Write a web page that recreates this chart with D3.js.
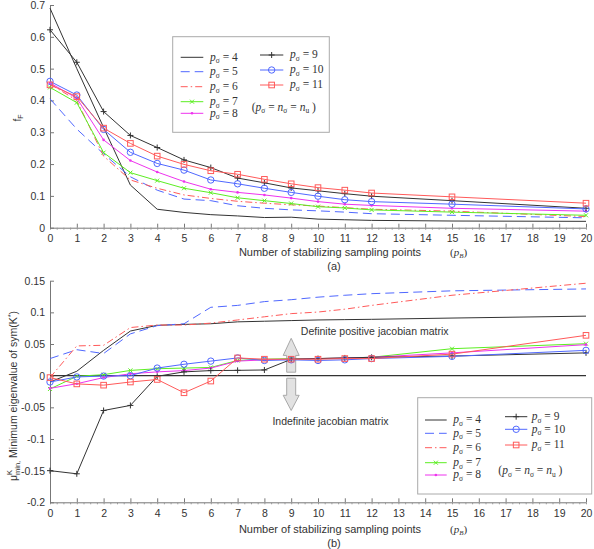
<!DOCTYPE html>
<html>
<head>
<meta charset="utf-8">
<script src="https://cdn.jsdelivr.net/npm/d3@7"></script>
<style>
body { margin: 0; background: #fff; }
svg { display: block; }
</style>
</head>
<body>
<div id="container"></div>
<script>
/* Abscisses communes aux deux graphes */
const xPoints = [0, 1, 2, 3, 4, 5, 6, 7, 8, 9, 10, 11, 12, 15, 20];
const pValues = [4, 5, 6, 7, 8, 9, 10, 11];
const xTicks = d3.range(0, 21);
const topYTicks = [0, 0.1, 0.2, 0.3, 0.4, 0.5, 0.6, 0.7];
const botYTicks = [-0.2, -0.15, -0.1, -0.05, 0, 0.05, 0.1, 0.15];

/* (a) f_F */
const topP4  = [0.69, 0.50, 0.315, 0.134, 0.058, 0.048, 0.041, 0.037, 0.032, 0.033, 0.027, 0.025, 0.023, 0.021, 0.020];
const topP5  = [0.405, 0.31, 0.232, 0.160, 0.118, 0.090, 0.085, 0.069, 0.061, 0.056, 0.053, 0.049, 0.044, 0.039, 0.031];
const topP6  = [0.452, 0.40, 0.225, 0.150, 0.124, 0.103, 0.092, 0.083, 0.077, 0.072, 0.068, 0.063, 0.058, 0.052, 0.035];
const topP7  = [0.441, 0.393, 0.236, 0.173, 0.148, 0.124, 0.110, 0.094, 0.085, 0.076, 0.066, 0.062, 0.056, 0.049, 0.039];
const topP8  = [0.455, 0.407, 0.276, 0.211, 0.175, 0.145, 0.121, 0.111, 0.103, 0.093, 0.082, 0.074, 0.070, 0.061, 0.052];
const topP9  = [0.622, 0.52, 0.365, 0.290, 0.252, 0.213, 0.189, 0.156, 0.141, 0.125, 0.116, 0.107, 0.099, 0.085, 0.061];
const topP10 = [0.460, 0.417, 0.309, 0.237, 0.202, 0.181, 0.150, 0.138, 0.124, 0.111, 0.099, 0.088, 0.082, 0.074, 0.059];
const topP11 = [0.449, 0.412, 0.313, 0.265, 0.225, 0.199, 0.179, 0.168, 0.152, 0.138, 0.126, 0.118, 0.109, 0.097, 0.077];

/* (b) valeur propre minimale */
const botP4  = [-0.010, 0.007, 0.040, 0.0705, 0.0795, 0.081, 0.082, 0.085, 0.086, 0.087, 0.088, 0.0885, 0.089, 0.091, 0.094];
const botP5  = [0.027, 0.041, 0.035, 0.066, 0.079, 0.082, 0.108, 0.111, 0.117, 0.120, 0.124, 0.127, 0.1295, 0.134, 0.137];
const botP6  = [-0.003, 0.047, 0.048, 0.076, 0.080, 0.080, 0.083, 0.088, 0.093, 0.098, 0.1005, 0.105, 0.111, 0.127, 0.146];
const botP7  = [-0.021, -0.001, 0.0016, 0.0083, 0.011, 0.012, 0.013, 0.024, 0.026, 0.027, 0.027, 0.028, 0.029, 0.0426, 0.0505];
const botP8  = [-0.020, -0.0127, -0.003, 0.003, 0.006, 0.008, 0.012, 0.023, 0.025, 0.026, 0.027, 0.028, 0.029, 0.036, 0.049];
const botP9  = [-0.150, -0.155, -0.055, -0.047, -0.001, 0.006, 0.008, 0.0084, 0.009, 0.0258, 0.027, 0.028, 0.029, 0.031, 0.036];
const botP10 = [-0.010, -0.002, -0.0006, 0.000, 0.012, 0.018, 0.023, 0.028, 0.024, 0.025, 0.024, 0.025, 0.027, 0.0305, 0.040];
const botP11 = [-0.003, -0.013, -0.015, -0.010, -0.006, -0.027, -0.0085, 0.028, 0.026, 0.026, 0.026, 0.027, 0.027, 0.034, 0.0637];

/* Flèche double et annotations (coordonnées des données) */
const arrowX = 9;
const arrowUp = [0.0055, 0.032, 0.059];
const arrowDown = [-0.004, -0.031, -0.055];

/* Styles des séries */
const seriesStyle = [
	{color: "#333333", dash: null, marker: null},
	{color: "#5068ff", dash: "9,5", marker: null},
	{color: "#ff5a5a", dash: "7,3,1.5,3", marker: null},
	{color: "#5cee22", dash: null, marker: "x"},
	{color: "#ee33ee", dash: null, marker: "dot"},
	{color: "#333333", dash: null, marker: "plus"},
	{color: "#5068ff", dash: null, marker: "circle"},
	{color: "#ff5a5a", dash: null, marker: "square"}
];

const topValues = [topP4, topP5, topP6, topP7, topP8, topP9, topP10, topP11];
const botValues = [botP4, botP5, botP6, botP7, botP8, botP9, botP10, botP11];

const fontSans = "Liberation Sans, Arial, sans-serif";
const fontSerif = "Liberation Serif, Times New Roman, serif";
const axisColor = "#777";
const textColor = "#333";

const svg = d3.select("#container").append("svg")
	.attr("width", 594)
	.attr("height", 549);

const x = d3.scaleLinear().domain([0, 20]).range([50, 586]);
const yTop = d3.scaleLinear().domain([0, 0.7]).range([227.7, 5]);
const yBot = d3.scaleLinear().domain([-0.2, 0.15]).range([502.3, 280.7]);

function fmt(d) {
	return String(+d.toFixed(2));
}

/**
 * Axes gauche et bas d'un graphe
**/
function drawAxes(y, yTicks) {
	const y0 = y.range()[0];
	const gx = svg.append("g").attr("transform", "translate(0," + y0 + ")");
	gx.call(d3.axisBottom(x).tickValues(xTicks).tickFormat(d3.format("d"))
		.tickSizeInner(-4).tickSizeOuter(0).tickPadding(7));
	/* graduations secondaires */
	const minor = svg.append("g").attr("transform", "translate(0," + y0 + ")");
	minor.call(d3.axisBottom(x).tickValues(d3.range(0, 20.01, 0.25)).tickFormat("")
		.tickSizeInner(2).tickSizeOuter(0));
	minor.select(".domain").remove();
	minor.selectAll("line").attr("stroke", "#999");

	const gy = svg.append("g").attr("transform", "translate(" + x(0) + ",0)");
	gy.call(d3.axisLeft(y).tickValues(yTicks).tickFormat(fmt)
		.tickSizeInner(-4).tickSizeOuter(0).tickPadding(5));

	[gx, gy].forEach(function(g) {
		g.select(".domain").attr("stroke", axisColor);
		g.selectAll(".tick line").attr("stroke", axisColor);
		g.selectAll(".tick text")
			.style("font-family", fontSans)
			.style("font-size", "10.5px")
			.attr("fill", textColor);
	});
}

function drawMarker(g, type, cx, cy, color) {
	if (type == "plus") {
		g.append("path").attr("d", "M" + (cx - 3) + "," + cy + "h6M" + cx + "," + (cy - 3) + "v6")
			.attr("stroke", color).attr("stroke-width", 1).attr("fill", "none");
	} else if (type == "x") {
		g.append("path").attr("d", "M" + (cx - 2) + "," + (cy - 2) + "l4,4M" + (cx - 2) + "," + (cy + 2) + "l4,-4")
			.attr("stroke", color).attr("stroke-width", 1).attr("fill", "none");
	} else if (type == "dot") {
		g.append("circle").attr("cx", cx).attr("cy", cy).attr("r", 1.3).attr("fill", color);
	} else if (type == "circle") {
		g.append("circle").attr("cx", cx).attr("cy", cy).attr("r", 3.2)
			.attr("stroke", color).attr("stroke-width", 1).attr("fill", "none");
	} else if (type == "square") {
		g.append("rect").attr("x", cx - 2.8).attr("y", cy - 2.8).attr("width", 5.6).attr("height", 5.6)
			.attr("stroke", color).attr("stroke-width", 1).attr("fill", "none");
	}
}

function drawSeries(y, values) {
	const g = svg.append("g");
	values.forEach(function(vals, i) {
		const st = seriesStyle[i];
		const pts = xPoints.map(function(xv, j) { return [xv, vals[j]]; });
		g.append("path")
			.datum(pts)
			.attr("d", d3.line().x(function(d) { return x(d[0]); }).y(function(d) { return y(d[1]); }))
			.attr("fill", "none")
			.attr("stroke", st.color)
			.attr("stroke-width", 1)
			.attr("stroke-dasharray", st.dash);
		if (st.marker) {
			pts.forEach(function(d) { drawMarker(g, st.marker, x(d[0]), y(d[1]), st.color); });
		}
	});
}

/* Texte p_sigma = n */
function legendLabel(t, p) {
	t.append("tspan").style("font-style", "italic").text("p");
	t.append("tspan").attr("font-size", "7.5px").attr("dy", 2.5).text("σ");
	t.append("tspan").attr("dy", -2.5).text(" = " + p);
}

function legendNote(t) {
	t.append("tspan").text("(");
	t.append("tspan").style("font-style", "italic").text("p");
	t.append("tspan").attr("font-size", "7.5px").attr("dy", 2.5).text("σ");
	t.append("tspan").attr("dy", -2.5).text(" = ");
	t.append("tspan").style("font-style", "italic").text("n");
	t.append("tspan").attr("font-size", "7.5px").attr("dy", 2.5).text("σ");
	t.append("tspan").attr("dy", -2.5).text(" = ");
	t.append("tspan").style("font-style", "italic").text("n");
	t.append("tspan").attr("font-size", "7.5px").attr("dy", 2.5).text("u");
	t.append("tspan").attr("dy", -2.5).text(" )");
}

function drawLegend(box, col1Rows, col2Rows, col1, col2, note) {
	const g = svg.append("g").attr("transform", "translate(" + box[0] + "," + box[1] + ")");
	g.append("rect").attr("width", box[2]).attr("height", box[3])
		.attr("fill", "#fff").attr("stroke", "#aaa").attr("stroke-width", 1);
	pValues.forEach(function(p, i) {
		const st = seriesStyle[i];
		const col = i < 5 ? col1 : col2;
		const ry = i < 5 ? col1Rows[i] : col2Rows[i - 5];
		g.append("line").attr("x1", col[0]).attr("x2", col[1]).attr("y1", ry).attr("y2", ry)
			.attr("stroke", st.color).attr("stroke-width", 1).attr("stroke-dasharray", st.dash);
		if (st.marker) drawMarker(g, st.marker, (col[0] + col[1]) / 2, ry, st.color);
		const t = g.append("text").attr("x", col[2]).attr("y", ry + 3.5)
			.style("font-family", fontSerif).style("font-size", "11.5px").attr("fill", textColor);
		legendLabel(t, p);
	});
	const n = g.append("text").attr("x", note[0]).attr("y", note[1] + 3.5)
		.style("font-family", fontSerif).style("font-size", "11.5px").attr("fill", textColor);
	legendNote(n);
}

function xLabel(yPos, sub) {
	svg.append("text").attr("x", 330).attr("y", yPos)
		.attr("text-anchor", "middle")
		.style("font-family", fontSans).style("font-size", "11px").attr("fill", textColor)
		.text("Number of stabilizing sampling points");
	const t = svg.append("text").attr("x", 450).attr("y", yPos)
		.style("font-family", fontSerif).style("font-size", "11px").attr("fill", textColor);
	t.append("tspan").text("(");
	t.append("tspan").style("font-style", "italic").text("p");
	t.append("tspan").attr("font-size", "7px").attr("dy", 2).style("font-style", "italic").text("B");
	t.append("tspan").attr("dy", -2).text(")");
	svg.append("text").attr("x", 334).attr("y", yPos + 14)
		.attr("text-anchor", "middle")
		.style("font-family", fontSans).style("font-size", "11px").attr("fill", textColor)
		.text(sub);
}

/**
 * Graphe (a)
**/
drawAxes(yTop, topYTicks);
drawSeries(yTop, topValues);
drawLegend([172.7, 36.7, 156.6, 95.6],
	[20.6, 35, 50, 65, 76.6], [18.3, 33.3, 48.3],
	[8, 30.6, 37.3], [87.3, 110.6, 117.3], [79, 70.6]);
xLabel(255.5, "(a)");

const fLab = svg.append("text")
	.attr("transform", "translate(21,118) rotate(-90)")
	.attr("text-anchor", "middle")
	.style("font-family", fontSans).style("font-size", "10px").attr("fill", textColor);
fLab.append("tspan").text("f");
fLab.append("tspan").attr("font-size", "7px").attr("dy", 2).text("F");

/**
 * Graphe (b)
**/
drawAxes(yBot, botYTicks);

/* Flèche double */
const hw = 8, sw = 4.5, ax = x(arrowX);
[arrowUp, arrowDown].forEach(function(a) {
	const base = yBot(a[0]), head = yBot(a[1]), tip = yBot(a[2]);
	const pts = [[ax - sw, base], [ax - sw, head], [ax - hw, head], [ax, tip],
		[ax + hw, head], [ax + sw, head], [ax + sw, base]];
	svg.append("polygon")
		.attr("points", pts.map(function(p) { return p.join(","); }).join(" "))
		.attr("fill", "#e2e2e2").attr("stroke", "#a8a8a8").attr("stroke-width", 1);
});

/* Ligne zéro */
svg.append("line")
	.attr("x1", x(0)).attr("x2", x(20)).attr("y1", yBot(0)).attr("y2", yBot(0))
	.attr("stroke", "#333").attr("stroke-width", 1.3);

drawSeries(yBot, botValues);

svg.append("text").attr("x", x(9.36)).attr("y", yBot(0.0705) + 4)
	.style("font-family", fontSans).style("font-size", "10.5px").attr("fill", textColor)
	.text("Definite positive jacobian matrix");
svg.append("text").attr("x", x(8.3)).attr("y", yBot(-0.0715) + 4)
	.style("font-family", fontSans).style("font-size", "10.5px").attr("fill", textColor)
	.text("Indefinite jacobian matrix");

drawLegend([417.7, 397.7, 174, 96.3],
	[22.3, 35.6, 50, 65, 77.3], [19, 31.6, 47.3],
	[7.3, 29, 35.6], [87.3, 109.6, 114], [80.6, 73.3]);
xLabel(532.5, "(b)");

const mLab = svg.append("text")
	.attr("transform", "translate(17,396) rotate(-90)")
	.attr("text-anchor", "middle")
	.style("font-family", fontSans).style("font-size", "10.5px").attr("fill", textColor);
mLab.append("tspan").text("μ");
mLab.append("tspan").attr("font-size", "7.5px").attr("dy", -5).text("K");
mLab.append("tspan").attr("font-size", "7.5px").attr("dx", -5).attr("dy", 8).text("min,");
mLab.append("tspan").attr("dy", -3).text(" Minimum eigenvalue of sym(K");
mLab.append("tspan").attr("font-size", "7.5px").attr("dy", -4).text("*");
mLab.append("tspan").attr("dy", 4).text(")");
</script>
</body>
</html>
